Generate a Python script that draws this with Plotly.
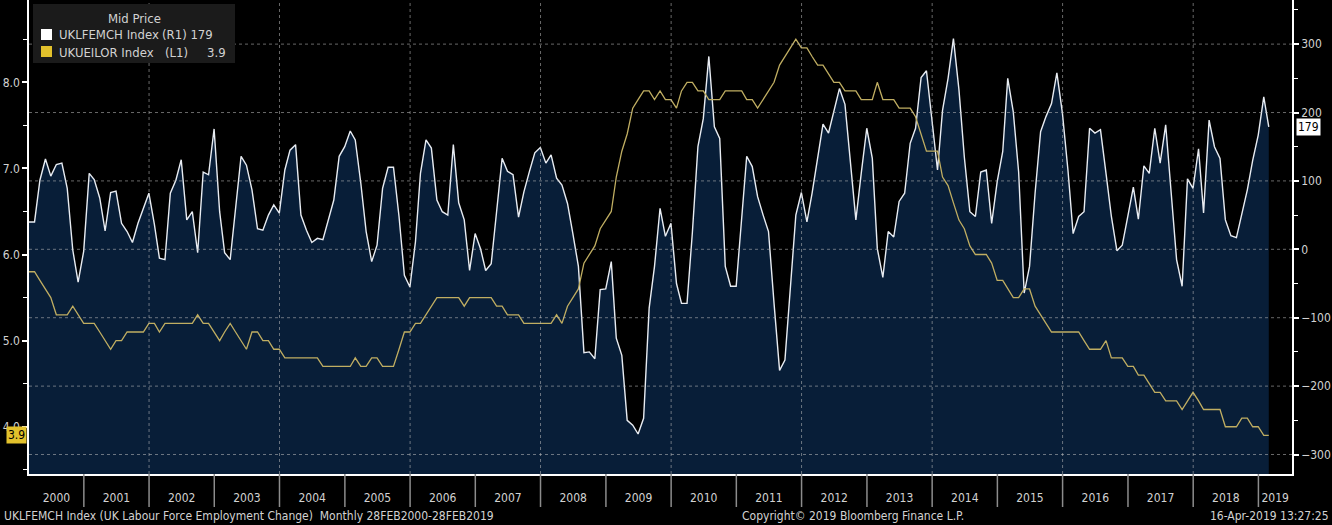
import plotly.graph_objects as go
import pandas as pd

# ---------------- data ----------------
START_MONTH = "2000-02-01"

# UKLFEMCH Index: UK LFS employment change (thousands), monthly Feb-2000 .. Feb-2019 (right axis)
employment_change = [
    40, 40, 101, 132, 107, 124, 126, 89, -1, -48, -3, 111,
    102, 75, 27, 83, 85, 38, 26, 10, 38, 60, 82, 36,
    -13, -15, 82, 101, 131, 43, 55, -5, 113, 109, 176, 55,
    -5, -15, 62, 136, 123, 87, 30, 28, 50, 65, 53, 116,
    145, 153, 50, 28, 10, 16, 14, 43, 72, 136, 150, 173,
    160, 97, 26, -18, 6, 89, 120, 120, 48, -38, -55, 11,
    111, 160, 148, 72, 55, 50, 153, 68, 43, -31, 23, 0,
    -31, -21, 58, 133, 114, 109, 47, 84, 114, 141, 149, 126,
    138, 104, 94, 67, 23, -25, -151, -150, -160, -59, -58, -18,
    -130, -155, -250, -257, -270, -247, -86, -25, 60, 19, 38, -50,
    -79, -79, 25, 150, 191, 282, 179, 162, -25, -54, -54, 43,
    136, 121, 77, 50, 26, -79, -177, -162, -50, 50, 83, 40,
    82, 135, 183, 170, 203, 235, 212, 125, 43, 111, 177, 133,
    1, -41, 26, 18, 70, 82, 155, 177, 251, 261, 184, 116,
    203, 250, 308, 233, 135, 55, 48, 113, 116, 38, 99, 143,
    250, 201, 113, -64, -25, 82, 172, 194, 213, 258, 199, 116,
    23, 48, 55, 177, 170, 175, 111, 48, -2, 6, 48, 91,
    44, 122, 111, 177, 126, 182, 82, -15, -54, 103, 89, 147,
    53, 189, 150, 133, 43, 20, 17, 53, 87, 130, 167, 223,
    179,
]

# UKUEILOR Index: UK ILO unemployment rate (%), same months (left axis)
unemployment_rate = [
    5.8, 5.8, 5.7, 5.6, 5.5, 5.3, 5.3, 5.3, 5.4, 5.3, 5.2, 5.2,
    5.2, 5.1, 5.0, 4.9, 5.0, 5.0, 5.1, 5.1, 5.1, 5.1, 5.2, 5.2,
    5.1, 5.2, 5.2, 5.2, 5.2, 5.2, 5.2, 5.3, 5.2, 5.2, 5.1, 5.0,
    5.1, 5.2, 5.1, 5.0, 4.9, 5.1, 5.1, 5.0, 5.0, 4.9, 4.9, 4.8,
    4.8, 4.8, 4.8, 4.8, 4.8, 4.8, 4.7, 4.7, 4.7, 4.7, 4.7, 4.7,
    4.8, 4.7, 4.7, 4.8, 4.8, 4.7, 4.7, 4.7, 4.9, 5.1, 5.1, 5.2,
    5.2, 5.3, 5.4, 5.5, 5.5, 5.5, 5.5, 5.5, 5.4, 5.5, 5.5, 5.5,
    5.5, 5.5, 5.4, 5.4, 5.3, 5.3, 5.3, 5.2, 5.2, 5.2, 5.2, 5.2,
    5.2, 5.3, 5.2, 5.4, 5.5, 5.6, 5.9, 6.0, 6.1, 6.3, 6.4, 6.5,
    6.9, 7.2, 7.4, 7.7, 7.8, 7.9, 7.9, 7.8, 7.9, 7.8, 7.8, 7.7,
    7.9, 8.0, 8.0, 7.9, 7.9, 7.8, 7.8, 7.8, 7.9, 7.9, 7.9, 7.9,
    7.8, 7.8, 7.7, 7.8, 7.9, 8.0, 8.2, 8.3, 8.4, 8.5, 8.4, 8.4,
    8.3, 8.2, 8.2, 8.1, 8.0, 8.0, 7.9, 7.9, 7.9, 7.8, 7.8, 7.8,
    8.0, 7.8, 7.8, 7.8, 7.7, 7.7, 7.7, 7.6, 7.4, 7.2, 7.2, 7.2,
    6.9, 6.8, 6.6, 6.4, 6.3, 6.1, 6.0, 6.0, 6.0, 5.9, 5.7, 5.7,
    5.6, 5.5, 5.5, 5.6, 5.6, 5.4, 5.3, 5.2, 5.1, 5.1, 5.1, 5.1,
    5.1, 5.1, 5.0, 4.9, 4.9, 4.9, 5.0, 4.8, 4.8, 4.8, 4.7, 4.7,
    4.6, 4.6, 4.5, 4.4, 4.4, 4.3, 4.3, 4.3, 4.2, 4.3, 4.4, 4.3,
    4.2, 4.2, 4.2, 4.2, 4.0, 4.0, 4.0, 4.1, 4.1, 4.0, 4.0, 3.9,
    3.9,
]

right_ticks = [-300, -200, -100, 0, 100, 200, 300]
left_ticks = [4.0, 5.0, 6.0, 7.0, 8.0]
year_labels = list(range(2000, 2020))
grid_years = list(range(2002, 2019, 2))

legend_title = "Mid Price"
series_names = ["UKLFEMCH Index", "UKUEILOR Index"]
footer_left = "UKLFEMCH Index (UK Labour Force Employment Change)  Monthly 28FEB2000-28FEB2019"
footer_mid = "Copyright\u00a9 2019 Bloomberg Finance L.P."
footer_right = "16-Apr-2019 13:27:25"

# ---------------- geometry / style ----------------
WIDTH, HEIGHT = 1332, 525
ML, MR, MT, MB = 29, 40, 0, 51
PW, PH = WIDTH - ML - MR, HEIGHT - MT - MB

RIGHT_RANGE = [-328.5, 364.5]
LEFT_RANGE = [3.451, 8.956]
X_RANGE = [pd.Timestamp("2000-02-29"), pd.Timestamp("2019-07-08")]

BG = "#000000"
NAVY = "rgb(8,30,56)"
WHITE_LINE = "#e8ecf2"
YELLOW_LINE = "#c0ae62"
YELLOW_BOX = "#e2c12c"
TEXT = "#d2d2d2"
GRID = "rgba(190,190,190,0.55)"
FONT = "DejaVu Sans Condensed, Liberation Sans Narrow, DejaVu Sans, sans-serif"


def px(xp):
    return (xp - ML) / PW


def py(yp):
    return 1 - (yp - MT) / PH


dates = [pd.Timestamp(START_MONTH) + pd.DateOffset(months=i) + pd.offsets.MonthEnd(0)
         for i in range(len(employment_change))]

fig = go.Figure()

# baseline for the area fill (bottom of right axis)
fig.add_trace(go.Scatter(x=dates, y=[RIGHT_RANGE[0]] * len(dates), mode="lines",
                         line=dict(width=0, color=NAVY), hoverinfo="skip",
                         showlegend=False, yaxis="y"))
fig.add_trace(go.Scatter(x=dates, y=employment_change, mode="lines",
                         line=dict(color=WHITE_LINE, width=1.4),
                         fill="tonexty", fillcolor=NAVY,
                         name=series_names[0], showlegend=False, yaxis="y"))
fig.add_trace(go.Scatter(x=dates, y=unemployment_rate, mode="lines",
                         line=dict(color=YELLOW_LINE, width=1.3, shape="linear"),
                         name=series_names[1], showlegend=False, yaxis="y2"))

shapes = []
# horizontal dotted grid (right axis ticks)
for v in right_ticks:
    shapes.append(dict(type="line", xref="paper", yref="y", x0=0, x1=1, y0=v, y1=v,
                       line=dict(color=GRID, width=1, dash="dot"), layer="above"))
# vertical dotted grid every two years
for yr in grid_years:
    d = pd.Timestamp(f"{yr}-01-01")
    shapes.append(dict(type="line", xref="x", yref="paper", x0=d, x1=d, y0=0, y1=1,
                       line=dict(color=GRID, width=1, dash="dot"), layer="above"))
# year separators below the axis
for yr in year_labels[1:]:
    d = pd.Timestamp(f"{yr}-01-01")
    shapes.append(dict(type="line", xref="x", yref="paper", x0=d, x1=d, y0=0, y1=py(507),
                       line=dict(color="#8c8c8c", width=1.5), layer="above"))
# legend box
shapes.append(dict(type="rect", xref="paper", yref="paper", x0=px(33), x1=px(235),
                   y0=py(63), y1=py(4), fillcolor="#1b1b1b", line=dict(width=0), layer="above"))
shapes.append(dict(type="rect", xref="paper", yref="paper", x0=px(41), x1=px(52),
                   y0=py(40), y1=py(29), fillcolor="#ffffff", line=dict(width=0), layer="above"))
shapes.append(dict(type="rect", xref="paper", yref="paper", x0=px(41), x1=px(52),
                   y0=py(57), y1=py(46), fillcolor=YELLOW_BOX, line=dict(width=0), layer="above"))

# year labels centred in the visible part of each year
tickvals, ticktext = [], []
for yr in year_labels:
    a = max(pd.Timestamp(f"{yr}-01-01"), X_RANGE[0])
    b = min(pd.Timestamp(f"{yr + 1}-01-01"), X_RANGE[1])
    tickvals.append(a + (b - a) / 2)
    ticktext.append(str(yr))

ann = []
def text(xp, yp, s, anchor="left", size=12, color=TEXT, **kw):
    ann.append(dict(xref="paper", yref="paper", x=px(xp), y=py(yp), text=s, showarrow=False,
                    xanchor=anchor, yanchor="middle", font=dict(size=size, color=color, family=FONT), **kw))

text(134, 19, legend_title, anchor="center", size=13)
text(57, 35, series_names[0], size=13)
text(160, 35, f"(R1) {employment_change[-1]}", size=13)
text(57, 52, series_names[1], size=13)
text(163, 52, "(L1)", size=13)
text(228, 52, f"{unemployment_rate[-1]:.1f}", anchor="right", size=13)
text(2, 516, footer_left)
text(740, 516, footer_mid)
text(1331, 516, footer_right, anchor="right")

# last-value markers on the axes
ann.append(dict(xref="paper", yref="y", x=1, y=employment_change[-1], text=str(employment_change[-1]),
                showarrow=False, xanchor="left", yanchor="middle", xshift=4,
                bgcolor="#ffffff", borderpad=1, font=dict(size=12, color="#000000", family=FONT)))
ann.append(dict(xref="paper", yref="y2", x=0, y=unemployment_rate[-1], text=f"{unemployment_rate[-1]:.1f}",
                showarrow=False, xanchor="right", yanchor="middle", xshift=-2,
                bgcolor=YELLOW_BOX, borderpad=1, font=dict(size=12, color="#000000", family=FONT)))

fig.update_layout(
    width=WIDTH, height=HEIGHT,
    margin=dict(l=ML, r=MR, t=MT, b=MB, autoexpand=False),
    paper_bgcolor=BG, plot_bgcolor=BG,
    font=dict(family=FONT, color=TEXT, size=12),
    showlegend=False,
    shapes=shapes,
    annotations=ann,
    xaxis=dict(type="date", range=X_RANGE, showgrid=False, zeroline=False,
               showline=True, linecolor="#ffffff", linewidth=1.5,
               tickmode="array", tickvals=tickvals, ticktext=ticktext, ticks="",
               ticklabelstandoff=12, tickfont=dict(size=12, color=TEXT)),
    yaxis=dict(side="right", range=RIGHT_RANGE, showgrid=False, zeroline=False,
               showline=True, linecolor="#ffffff", linewidth=1.5,
               tickmode="array", tickvals=right_ticks, ticks="outside", ticklen=5,
               tickwidth=2, tickcolor="#ffffff",
               minor=dict(dtick=50, tick0=0, ticks="outside", ticklen=4, tickcolor="#ffffff", tickwidth=1),
               tickfont=dict(size=12, color=TEXT)),
    yaxis2=dict(side="left", overlaying="y", range=LEFT_RANGE, showgrid=False, zeroline=False,
                showline=True, linecolor="#ffffff", linewidth=1.5,
                tickmode="array", tickvals=left_ticks, ticktext=[f"{v:.1f}" for v in left_ticks],
                ticks="outside", ticklen=5, tickwidth=2, tickcolor="#ffffff",
                minor=dict(dtick=0.5, tick0=0, ticks="outside", ticklen=4, tickcolor="#ffffff", tickwidth=1),
                tickfont=dict(size=12, color=TEXT)),
)

fig.write_html("out.html", config={"displayModeBar": False},
               post_script="document.body.style.margin='0px';document.body.style.overflow='hidden';")
